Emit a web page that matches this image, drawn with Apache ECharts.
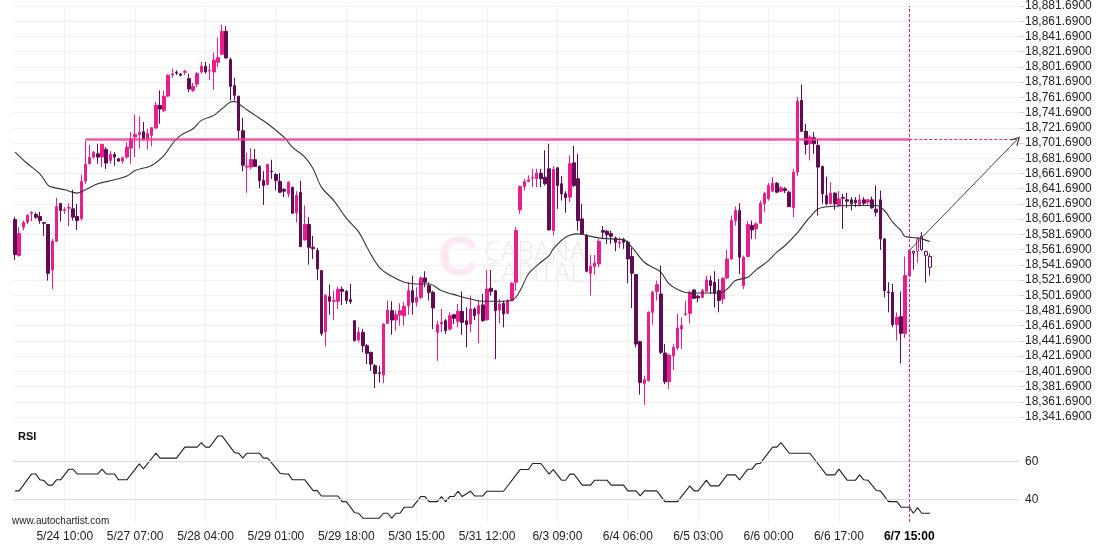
<!DOCTYPE html>
<html>
<head>
<meta charset="utf-8">
<script src="https://cdn.jsdelivr.net/npm/echarts@6/dist/echarts.min.js"></script>
<style>
html,body{margin:0;padding:0;background:#fff;}
#chart{width:1110px;height:550px;}
</style>
</head>
<body>
<div id="chart"></div>
<script>
// ---- DATA ----
const tickLabels = ['5/24 10:00','5/27 07:00','5/28 04:00','5/29 01:00','5/29 18:00','5/30 15:00','5/31 12:00','6/3 09:00','6/4 06:00','6/5 03:00','6/6 00:00','6/6 17:00','6/7 15:00'];
const firstTick = 12;
const tickStep = 17;
const slotCount = 243;

const yMin = 18341.69;
const yMax = 18881.69;
const yStep = 20;

// [open, close, low, high]
const candles = [
[18601.1,18555.1,18548.1,18604.2],[18553.8,18582.7,18552.5,18591.1],[18591.1,18597.2,18586.7,18599.8],[18597.6,18606.4,18595.4,18608.6],
[18609.5,18610.4,18599.0,18612.1],[18607.7,18604.2,18602.0,18610.4],[18605.1,18599.8,18595.4,18611.2],[18597.2,18596.3,18579.7,18597.6],
[18594.6,18530.5,18520.9,18595.4],[18534.9,18572.6,18509.9,18575.7],[18572.6,18618.2,18571.3,18629.7],[18622.2,18613.0,18598.5,18623.1],
[18613.0,18614.3,18608.6,18617.4],[18616.1,18616.9,18592.4,18622.6],[18615.2,18604.2,18599.8,18640.2],[18605.1,18599.8,18587.5,18621.8],
[18602.4,18651.2,18599.8,18660.3],[18651.6,18673.5,18648.1,18705.0],[18674.4,18682.7,18673.5,18699.4],[18683.2,18689.3,18681.0,18691.1],
[18687.5,18683.2,18674.4,18700.7],[18683.2,18699.8,18670.0,18700.7],[18693.3,18675.3,18667.8,18696.3],[18678.8,18686.7,18674.4,18691.1],
[18686.7,18683.2,18671.3,18689.7],[18681.0,18677.9,18677.0,18682.3],[18677.9,18682.3,18674.4,18684.0],[18683.2,18696.3,18681.0,18702.9],
[18695.0,18707.3,18674.4,18716.1],[18709.5,18713.0,18683.2,18738.9],[18713.0,18715.6,18694.1,18736.7],[18716.5,18706.8,18705.1,18729.2],
[18706.8,18714.3,18693.3,18720.4],[18711.7,18721.8,18697.6,18722.6],[18721.3,18751.1,18720.4,18755.5],[18751.1,18746.3,18727.0,18770.9],
[18744.6,18763.0,18742.4,18770.9],[18763.4,18790.6,18762.1,18791.9],[18791.1,18792.4,18787.5,18799.4],[18794.6,18793.7,18791.1,18797.2],
[18792.4,18790.6,18789.3,18793.2],[18794.6,18795.5,18791.1,18798.1],[18786.2,18772.6,18768.7,18792.8],[18770.9,18776.1,18768.7,18780.5],
[18779.0,18792.8,18775.3,18795.0],[18795.0,18802.5,18792.8,18808.2],[18802.5,18795.0,18792.8,18808.2],[18796.3,18797.2,18784.1,18806.0],
[18795.0,18810.4,18771.8,18820.5],[18807.7,18813.9,18801.6,18840.2],[18818.2,18848.5,18816.9,18857.3],[18848.5,18813.4,18812.6,18855.1],
[18811.2,18776.1,18757.7,18813.9],[18777.0,18764.3,18757.7,18787.5],[18763.0,18718.2,18706.0,18763.9],[18717.8,18672.6,18664.7,18734.9],
[18670.0,18671.3,18636.2,18688.9],[18670.0,18680.1,18666.9,18695.0],[18679.7,18670.9,18670.0,18693.7],[18670.9,18652.5,18642.4,18672.2],
[18652.5,18645.9,18620.4,18664.7],[18647.2,18673.5,18645.9,18674.4],[18664.7,18663.9,18654.7,18679.7],[18660.4,18652.5,18639.3,18662.1],
[18651.1,18637.1,18635.8,18662.1],[18640.6,18638.4,18630.5,18642.4],[18634.9,18650.3,18630.5,18651.1],[18643.2,18609.5,18608.6,18644.6],
[18609.9,18632.7,18597.6,18638.4],[18636.7,18565.6,18564.7,18652.0],[18574.4,18594.6,18573.5,18619.6],[18594.6,18564.7,18541.9,18604.2],
[18564.7,18563.0,18549.4,18579.7],[18560.3,18536.2,18521.8,18563.9],[18534.0,18451.6,18448.5,18534.9],[18453.8,18501.1,18434.5,18503.3],
[18499.8,18493.7,18476.1,18515.6],[18493.7,18494.6,18469.1,18507.7],[18493.7,18509.5,18483.6,18513.0],[18509.5,18506.8,18488.9,18513.0],
[18506.8,18494.6,18490.2,18508.6],[18495.9,18493.2,18490.2,18516.5],[18468.2,18441.9,18441.1,18469.1],[18442.8,18452.9,18439.7,18459.5],
[18452.9,18435.3,18426.6,18457.3],[18435.3,18425.3,18411.2,18437.5],[18426.6,18411.2,18402.5,18427.5],[18409.0,18398.9,18379.6,18411.2],
[18399.8,18398.9,18387.1,18409.0],[18396.8,18463.9,18386.2,18464.7],[18464.7,18482.3,18463.9,18494.6],[18481.4,18469.1,18449.8,18493.7],
[18469.1,18476.1,18455.1,18481.4],[18475.7,18481.4,18461.7,18491.1],[18474.8,18487.1,18461.7,18493.2],[18488.0,18507.7,18476.1,18518.7],
[18507.7,18492.4,18476.1,18527.5],[18492.4,18498.9,18486.7,18512.1],[18498.9,18524.4,18496.8,18526.2],[18524.4,18518.7,18512.1,18533.2],
[18514.3,18505.5,18494.6,18518.7],[18505.5,18484.9,18457.3,18507.7],[18452.9,18463.0,18415.6,18468.2],[18463.9,18466.1,18452.9,18483.6],
[18468.2,18455.1,18450.7,18470.4],[18457.3,18474.8,18455.1,18479.2],[18476.1,18471.3,18463.9,18477.0],[18467.4,18480.5,18459.5,18490.2],
[18480.5,18466.1,18449.8,18506.8],[18468.2,18463.0,18433.2,18485.8],[18463.9,18483.6,18452.9,18501.1],[18483.6,18474.8,18469.1,18485.8],
[18477.0,18488.0,18438.9,18494.6],[18488.9,18468.2,18466.9,18503.3],[18469.6,18509.9,18468.2,18534.9],[18510.8,18506.8,18501.1,18534.9],
[18507.7,18481.4,18417.8,18508.6],[18482.3,18490.2,18464.7,18496.8],[18491.1,18477.0,18459.5,18494.6],[18477.9,18494.6,18477.0,18496.8],
[18494.6,18517.4,18493.7,18518.7],[18518.7,18586.7,18507.7,18591.1],[18613.9,18644.6,18608.6,18645.9],[18644.6,18651.1,18639.3,18654.7],
[18651.1,18653.3,18650.3,18659.0],[18655.5,18656.4,18643.7,18667.8],[18654.7,18662.1,18643.7,18667.8],[18662.1,18654.7,18643.7,18667.8],
[18656.8,18648.1,18645.9,18692.0],[18667.8,18587.5,18586.7,18700.7],[18586.7,18666.9,18580.1,18671.3],[18669.1,18645.9,18615.2,18670.0],
[18648.1,18634.9,18626.1,18658.2],[18634.9,18629.7,18609.9,18638.4],[18630.5,18674.4,18623.9,18685.4],[18675.7,18645.9,18643.7,18697.6],
[18654.7,18599.8,18586.7,18687.5],[18602.0,18582.3,18581.4,18621.8],[18580.1,18533.2,18531.8,18582.3],[18530.5,18539.7,18501.1,18554.6],
[18539.7,18543.7,18528.8,18554.6],[18542.8,18572.6,18538.4,18575.7],[18586.7,18584.5,18575.7,18592.4],[18585.8,18581.0,18569.1,18587.5],
[18582.7,18579.2,18569.1,18586.7],[18577.0,18571.3,18559.5,18578.8],[18570.0,18571.3,18563.9,18577.9],[18575.3,18571.3,18562.6,18577.0],
[18571.3,18549.4,18517.4,18573.5],[18552.5,18530.5,18484.9,18563.9],[18528.8,18437.5,18433.2,18529.6],[18440.6,18387.1,18370.9,18441.9],
[18385.8,18390.6,18357.7,18395.9],[18389.3,18479.2,18388.4,18480.5],[18479.2,18505.5,18463.0,18507.7],[18506.8,18515.6,18494.6,18520.9],
[18503.3,18426.6,18424.4,18540.6],[18425.7,18388.0,18384.9,18437.5],[18388.0,18423.1,18378.4,18424.4],[18422.2,18433.2,18403.3,18437.5],
[18432.3,18458.6,18429.7,18477.0],[18457.3,18461.7,18431.0,18472.6],[18476.1,18477.4,18474.8,18494.6],[18477.9,18505.5,18464.7,18507.7],
[18508.6,18497.6,18496.8,18509.9],[18500.3,18498.1,18492.4,18502.5],[18498.9,18507.7,18497.6,18509.9],[18506.8,18521.8,18505.5,18527.5],
[18520.9,18514.3,18503.3,18527.5],[18518.7,18504.2,18485.8,18533.2],[18507.7,18494.6,18479.2,18523.1],[18496.8,18524.0,18490.2,18525.3],
[18524.4,18549.4,18523.1,18561.2],[18549.4,18599.8,18548.1,18606.4],[18599.8,18613.0,18593.3,18618.2],[18613.0,18551.6,18529.6,18622.6],
[18514.3,18551.6,18509.9,18553.8],[18552.5,18594.6,18551.6,18599.0],[18593.3,18587.5,18575.7,18599.8],[18588.9,18595.4,18575.7,18597.6],
[18596.3,18622.6,18595.4,18626.1],[18621.8,18635.8,18610.8,18637.1],[18628.3,18645.9,18626.1,18648.9],[18638.4,18648.9,18637.1,18656.8],
[18648.9,18637.1,18635.8,18650.3],[18638.4,18642.8,18637.1,18644.6],[18641.5,18639.3,18635.8,18643.7],[18637.1,18618.2,18617.4,18639.3],
[18616.5,18663.4,18604.2,18667.8],[18663.4,18756.4,18658.2,18762.1],[18757.7,18717.0,18716.1,18778.3],[18717.0,18699.8,18686.7,18727.0],
[18700.7,18709.5,18678.8,18711.7],[18708.6,18700.7,18687.5,18716.1],[18698.5,18670.0,18606.4,18705.1],[18670.9,18634.9,18621.8,18671.8],
[18632.7,18621.8,18619.6,18657.7],[18621.8,18635.8,18620.9,18650.3],[18635.8,18621.8,18613.9,18637.1],[18619.6,18628.3,18617.4,18638.4],
[18630.1,18629.2,18588.9,18634.9],[18627.0,18625.3,18616.5,18636.2],[18627.0,18621.8,18613.0,18630.5],[18626.6,18623.1,18617.4,18630.5],
[18620.9,18627.0,18618.2,18634.0],[18627.0,18622.6,18619.6,18630.5],[18624.0,18627.0,18620.9,18627.9],[18627.0,18616.5,18615.2,18631.4],
[18614.7,18610.8,18605.1,18645.9],[18627.0,18575.7,18561.2,18639.3],[18575.7,18507.7,18498.9,18577.0],[18506.0,18505.1,18479.2,18518.7],
[18505.5,18463.0,18459.5,18516.5],[18463.0,18472.6,18441.9,18479.2],[18473.5,18451.6,18412.1,18506.8],[18451.6,18527.5,18445.5,18552.5],
[18527.0,18560.4,18526.2,18561.2],[18559.4,18556.8,18535.3,18560.3],[18559.4,18574.8,18544.6,18577.5],[18578.8,18561.7,18560.3,18584.4],
[18559.0,18554.2,18518.2,18560.3],[18552.5,18538.4,18527.4,18556.4]
];

// moving average: [candle index, value]
const maPoints = [
[0,18689.8],[3,18674.4],[6,18661.2],[8,18645.9],[9,18643.7],[12,18640.2],[15,18635.8],[17,18640.2],[20,18648.1],[24,18653.3],
[27,18658.2],[29,18665.6],[33,18672.2],[36,18685.4],[38,18700.7],[40,18711.7],[43,18720.4],[45,18731.4],[48,18738.0],[50,18746.8],
[52,18755.5],[53,18756.4],[54,18753.3],[56,18745.4],[58,18738.0],[61,18727.0],[65,18709.0],[67,18696.3],[70,18683.2],[72,18667.8],
[74,18643.7],[77,18626.1],[80,18603.0],[83,18585.0],[85,18564.7],[88,18538.4],[91,18526.5],[94,18518.7],[97,18516.5],[100,18516.5],
[103,18507.7],[107,18501.1],[110,18496.8],[113,18493.7],[117,18493.7],[120,18495.0],[122,18507.7],[124,18529.6],[127,18545.0],[129,18553.8],
[130,18562.6],[133,18577.9],[136,18582.3],[137,18581.4],[141,18577.0],[144,18575.7],[147,18574.4],[149,18564.7],[152,18545.0],[154,18538.4],
[156,18531.8],[158,18516.5],[161,18506.8],[163,18504.6],[170,18504.6],[172,18509.9],[174,18520.9],[177,18525.3],[179,18534.9],[182,18547.2],
[184,18558.2],[186,18567.0],[189,18584.0],[191,18598.0],[192,18604.2],[194,18615.2],[197,18618.2],[202,18619.6],[208,18619.6],[210,18613.0],
[212,18597.6],[214,18586.7],[215,18578.8],[218,18577.0],[221,18572.2]
];

// RSI: [candle index, value]
const rsiPoints = [
[0,44.4],[1,44.4],[4,53.3],[5,53.3],[6,50.2],[7,49.8],[8,47.4],[9,47.4],[10,50.2],[11,50.2],[13,55.8],[14,55.8],[15,53.3],[20,53.3],
[21,55.8],[22,53.3],[24,53.3],[25,50.2],[27,50.2],[30,58.6],[31,56.0],[34,64.2],[35,61.6],[39,61.6],[41,67.4],[44,67.4],[45,69.8],
[46,67.4],[47,67.4],[49,73.3],[50,73.3],[53,64.5],[54,64.2],[55,61.6],[56,64.2],[59,64.2],[60,61.6],[61,61.6],[64,53.7],[65,53.3],
[66,53.3],[67,50.2],[70,50.2],[72,44.5],[73,44.5],[74,41.7],[78,41.7],[79,38.7],[80,38.7],[82,32.9],[83,32.6],[84,30.0],[88,30.0],
[89,32.6],[90,32.6],[91,30.0],[92,32.6],[93,32.6],[94,35.8],[96,35.8],[98,41.4],[99,41.4],[100,38.7],[102,38.7],[103,41.4],[104,38.7],
[105,41.4],[106,41.4],[107,44.2],[108,41.4],[110,44.2],[111,41.7],[113,41.7],[114,44.2],[118,44.2],[122,55.6],[124,55.6],[125,58.8],
[127,58.8],[129,53.2],[130,55.6],[132,50.0],[133,50.0],[134,53.2],[135,53.2],[137,47.4],[139,47.4],[140,50.0],[143,50.0],[144,47.4],
[147,47.4],[148,44.4],[150,44.4],[151,41.7],[152,44.4],[155,44.4],[157,38.7],[160,38.7],[163,47.0],[164,44.4],[165,44.4],[167,50.0],
[168,47.0],[170,47.0],[172,52.8],[174,52.8],[175,50.2],[177,55.8],[178,55.8],[179,58.6],[180,58.9],[183,67.4],[184,67.4],[185,69.8],
[187,64.2],[192,64.2],[196,52.8],[198,52.8],[199,55.8],[201,50.0],[203,50.0],[204,52.8],[205,50.2],[206,50.0],[208,44.6],[209,44.4],
[211,38.7],[213,38.7],[214,35.8],[216,35.8],[217,32.6],[218,35.6],[219,32.6],[221,32.6]
];
const rsiLevels = [40, 60];
const rsiMin = 28;

const signalIndex = 216;
const levelStartIndex = 17;
const levelValue = 18706;
const arrowStartValue = 18560.4;
const arrowEndIndex = 242;

// ---- STYLE ----
const PINK = '#e91e8c';
const DARK = '#5e0c54';
const FONT = '"Liberation Sans", Arial, sans-serif';

const categories = Array.from({length: slotCount}, (_, i) => String(i));
const lastTick = firstTick + tickStep * (tickLabels.length - 1);
const isTick = (i) => i >= firstTick && i <= lastTick && (i - firstTick) % tickStep === 0;

function fmt(n) {
  const s = n.toFixed(4);
  const parts = s.split('.');
  return parts[0].replace(/\B(?=(\d{3})+(?!\d))/g, ',') + '.' + parts[1];
}

const candleData = candles.map((c, i) => {
  if (i <= signalIndex) return c;
  const bull = c[1] >= c[0];
  const col = bull ? PINK : DARK;
  return { value: c, itemStyle: { color: '#fff', color0: '#fff', borderColor: col, borderColor0: col } };
});

const chevron = 'path://M0,10 L5,0 L10,10 L8.6,10 L5,2.8 L1.4,10 Z';

const gridLeft = 13, gridRight = 91;
const rsiLabel = { show: true, position: 'end', distance: 6, fontFamily: FONT, fontSize: 12, color: '#222' };

const option = {
  animation: false,
  backgroundColor: '#fff',
  textStyle: { fontFamily: FONT },
  grid: [
    { left: gridLeft, right: gridRight, top: 6, height: 411 },
    { left: gridLeft, right: gridRight, top: 417, height: 105 }
  ],
  xAxis: [
    {
      type: 'category', gridIndex: 0, data: categories, boundaryGap: true,
      axisLine: { show: false }, axisTick: { show: false }, axisLabel: { show: false },
      splitLine: { show: true, alignWithLabel: true, interval: (i) => isTick(i), lineStyle: { color: '#f1f1f1', width: 1 } }
    },
    {
      type: 'category', gridIndex: 1, data: categories, boundaryGap: true,
      axisLine: { show: false }, axisTick: { show: false },
      splitLine: { show: true, alignWithLabel: true, interval: (i) => isTick(i), lineStyle: { color: '#f1f1f1', width: 1 } },
      axisLabel: {
        show: true, interval: (i) => isTick(i), margin: 9,
        fontFamily: FONT, fontSize: 12, color: '#222',
        formatter: (v) => {
          const k = (Number(v) - firstTick) / tickStep;
          const t = tickLabels[k] || '';
          return k === tickLabels.length - 1 ? '{b|' + t + '}' : t;
        },
        rich: { b: { fontWeight: 'bold', fontSize: 12, color: '#000', fontFamily: FONT } }
      }
    }
  ],
  yAxis: [
    { type: 'value', gridIndex: 0, min: yMin, max: yMax, show: false, splitLine: { show: false } },
    {
      type: 'value', gridIndex: 0, min: 0, max: yMax - yMin, interval: yStep, position: 'right',
      axisLine: { show: false },
      axisTick: { show: true, length: 5, lineStyle: { color: '#d8d8d8' } },
      splitLine: { show: true, lineStyle: { color: '#f1f1f1', width: 1 } },
      axisLabel: { margin: 6, fontFamily: FONT, fontSize: 12, color: '#222', formatter: (v) => fmt(yMin + v) }
    },
    {
      type: 'value', gridIndex: 1, min: rsiMin, max: rsiMin + 105 / 1.9, show: false, splitLine: { show: false }
    }
  ],
  series: [
    {
      type: 'candlestick', xAxisIndex: 0, yAxisIndex: 0, data: candleData, barWidth: 3,
      itemStyle: { color: PINK, color0: DARK, borderColor: PINK, borderColor0: DARK, borderWidth: 1 },
      markLine: {
        silent: true, symbol: 'none', animation: false, label: { show: false },
        lineStyle: { color: 'rgba(234,60,150,0.85)', width: 2.5, type: 'solid' },
        data: [
          [ { coord: [String(levelStartIndex), levelValue] }, { coord: [String(signalIndex), levelValue] } ],
          [ { coord: [String(signalIndex), levelValue], lineStyle: { color: PINK, width: 1, type: [3, 2] } },
            { coord: [String(arrowEndIndex), levelValue] } ],
          [ { coord: [String(signalIndex), arrowStartValue], symbol: 'none', lineStyle: { color: '#444', width: 1, type: 'solid' } },
            { coord: [String(arrowEndIndex), levelValue], symbol: chevron, symbolSize: [10, 9] } ],
          { xAxis: String(signalIndex), lineStyle: { color: PINK, width: 1, type: [3, 2] } }
        ]
      }
    },
    {
      type: 'line', xAxisIndex: 0, yAxisIndex: 0, data: maPoints, smooth: 0.35, showSymbol: false,
      lineStyle: { color: '#333', width: 1.1 }, silent: true
    },
    {
      type: 'line', xAxisIndex: 1, yAxisIndex: 2, data: rsiPoints, smooth: false, showSymbol: false,
      lineStyle: { color: '#222', width: 1.1 }, silent: true,
      markLine: {
        silent: true, symbol: 'none', animation: false, label: { show: false },
        data: [
          { yAxis: rsiLevels[0], lineStyle: { color: '#dcdcdc', width: 1, type: 'solid' }, label: Object.assign({ formatter: String(rsiLevels[0]) }, rsiLabel) },
          { yAxis: rsiLevels[1], lineStyle: { color: '#dcdcdc', width: 1, type: 'solid' }, label: Object.assign({ formatter: String(rsiLevels[1]) }, rsiLabel) },
          { xAxis: String(signalIndex), lineStyle: { color: PINK, width: 1, type: [3, 2] } }
        ]
      }
    }
  ],
  graphic: [
    { type: 'text', left: 18, top: 431, z: 10, style: { text: 'RSI', font: 'bold 11px ' + FONT, fill: '#111' } },
    { type: 'text', left: 12, top: 516, z: 10, style: { text: 'www.autochartist.com', font: '10px ' + FONT, fill: '#222' } },
    { type: 'text', left: 438, top: 232, z: -1, silent: true, style: { text: 'C', font: 'bold 56px ' + FONT, fill: 'rgba(233,30,140,0.10)' } },
    { type: 'text', left: 484, top: 240, z: -1, silent: true, style: { text: 'CABANA', font: '300 27px "Open Sans", ' + FONT, fill: 'rgba(0,0,0,0.085)' } },
    { type: 'text', left: 484, top: 261, z: -1, silent: true, style: { text: 'CAPITALS', font: '300 27px "Open Sans", ' + FONT, fill: 'rgba(0,0,0,0.085)' } }
  ]
};

const chart = echarts.init(document.getElementById('chart'), null, { renderer: 'canvas' });
chart.setOption(option);
</script>
</body>
</html>
